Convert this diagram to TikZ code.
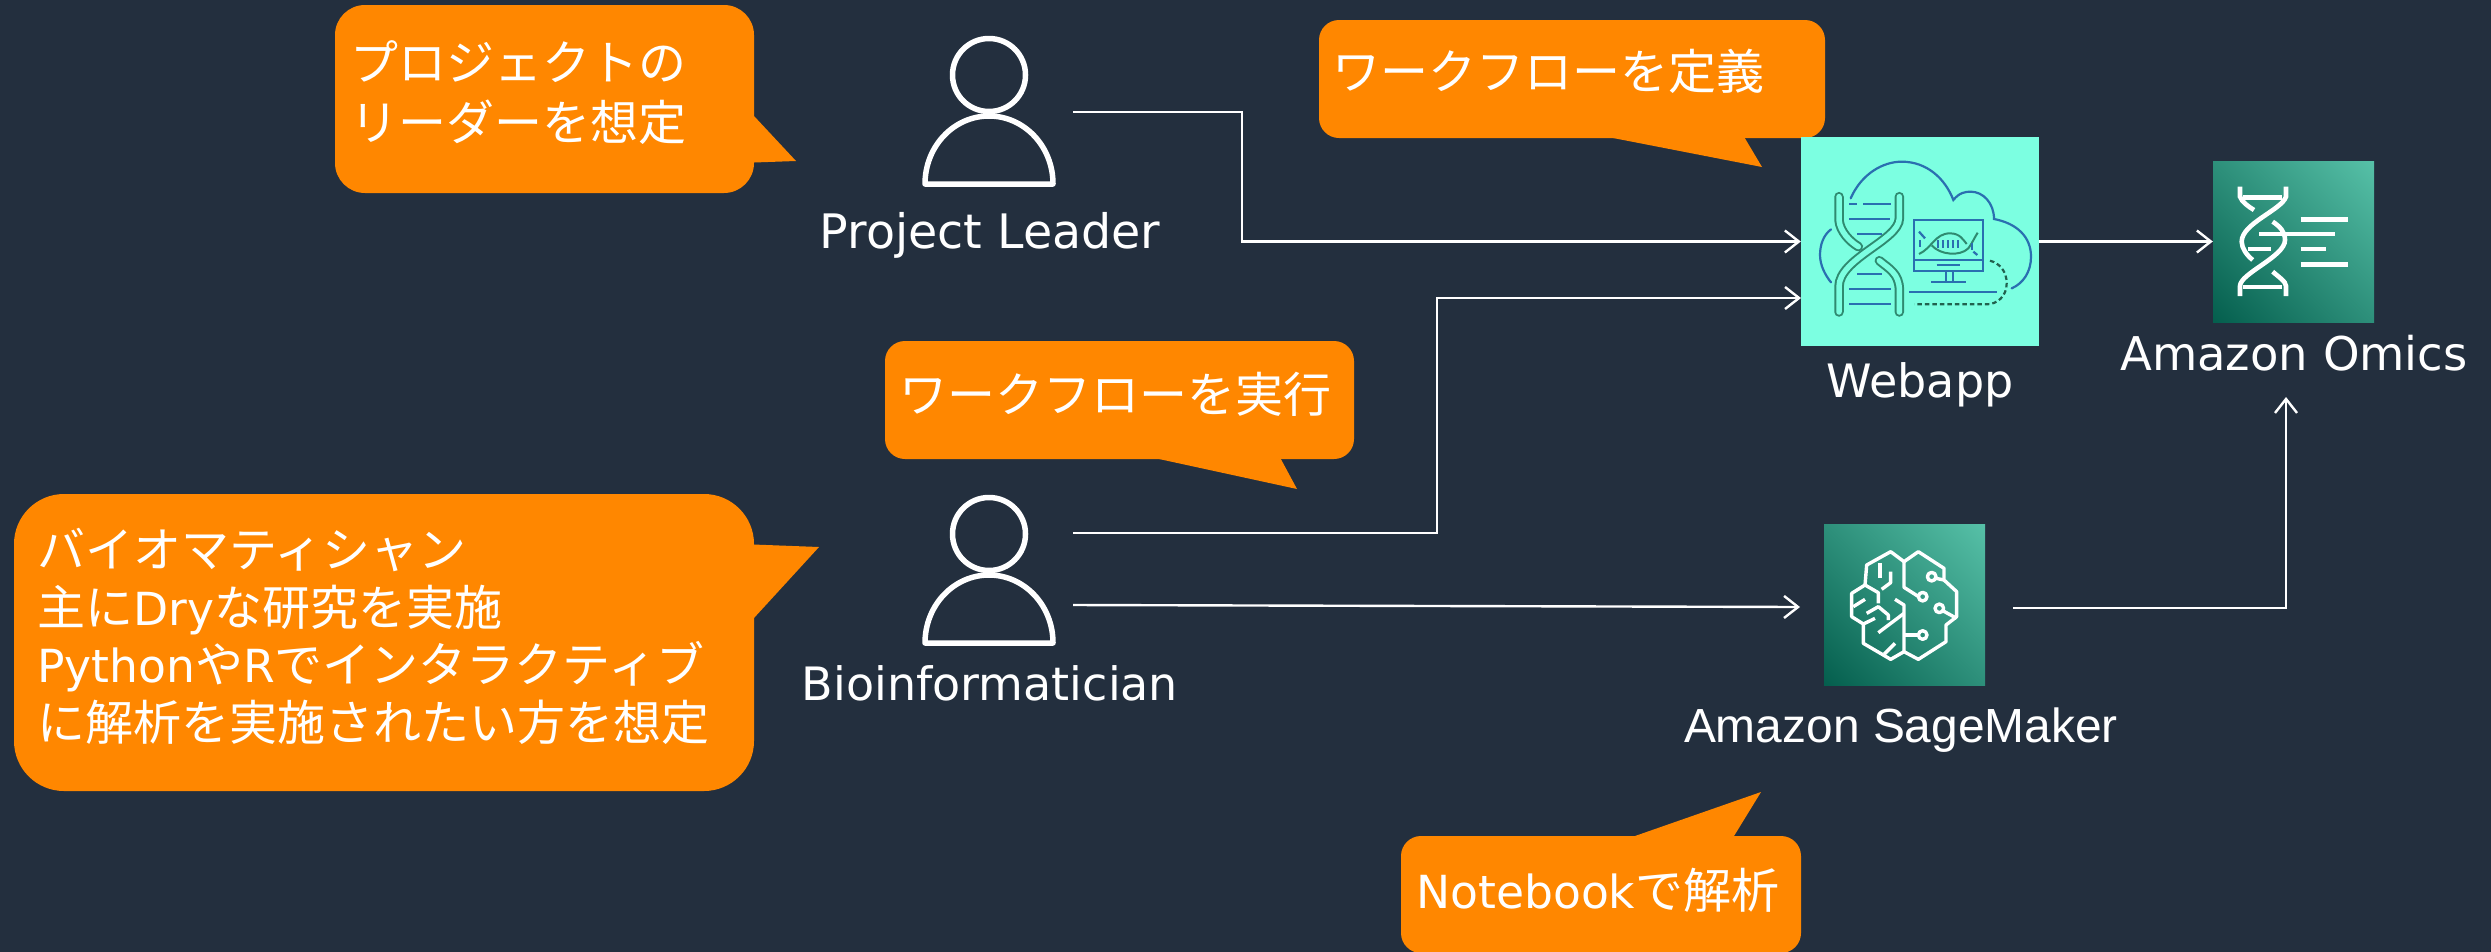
\documentclass[tikz,border=0pt]{standalone}
\usepackage{fontspec}
\usetikzlibrary{arrows.meta}
\setmainfont{Noto Sans CJK JP}
\newfontfamily\latinf[Scale=0.95]{DejaVu Sans}
\newfontfamily\labelf{DejaVu Sans}
\newfontfamily\awsf{Liberation Sans}
\newcommand{\latn}[1]{{\latinf #1}}
\definecolor{bgc}{HTML}{232F3E}
\definecolor{orng}{HTML}{FF8700}
\definecolor{mint}{HTML}{7CFFE1}
\definecolor{awsdark}{HTML}{055F4E}
\definecolor{awslight}{HTML}{56C0A7}
\definecolor{icblue}{HTML}{2A6FB0}
\definecolor{icgreen}{HTML}{2F8A70}
\pgfdeclareverticalshading{awsgrad}{100bp}{color(0bp)=(awsdark); color(15bp)=(awsdark); color(85bp)=(awslight); color(100bp)=(awslight)}
\tikzset{
  x=1pt,y=-1pt,
  bubble/.style={fill=orng,draw=none,rounded corners=#1},
  bubbletext/.style={inner sep=0pt,text=white,anchor=base west,align=left,
     font=\fontsize{48}{57.5}\selectfont},
  lbl/.style={inner sep=0pt,text=white,anchor=base},
  flow/.style={draw=white,line width=2.4pt,-{Straight Barb[length=14pt,width=22pt,line width=2.4pt]}},
  personbox/.style={minimum width=134pt,minimum height=150pt,inner sep=0pt,draw=none},
  person/.style={draw=white,line width=5.5pt,fill=none},
  awsicon/.style={minimum width=161pt,minimum height=161pt,inner sep=0pt,draw=none,
     shading=awsgrad,shading angle=-45},
  iconline/.style={draw=white,line width=#1,line cap=butt,line join=miter},
  cloudline/.style={draw=icblue,line width=2.2pt,line cap=round},
  rung/.style={draw=icblue,line width=2.2pt},
  strand/.style={draw=icgreen,line width=2pt,double=mint,double distance=5.5pt,line cap=round},
}
\begin{document}
\begin{tikzpicture}
\useasboundingbox (0,0) rectangle (2491,951);
\fill[bgc] (-6,-6) rectangle (2497,957);

% speech bubbles
\fill[orng] (754,116) -- (796,161) -- (740,163) -- (740,116) -- cycle;
\fill[bubble=30pt] (335,5) rectangle (754,193);
\fill[orng] (1613,130) -- (1613,138) -- (1762,167) -- (1740,130) -- cycle;
\fill[bubble=20pt] (1319,20) rectangle (1825,138);
\fill[orng] (1159,450) -- (1159,459) -- (1297,489) -- (1276,450) -- cycle;
\fill[bubble=20pt] (885,341) rectangle (1354,459);
\fill[orng] (740,544) -- (819,547) -- (754,618) -- (740,618) -- cycle;
\fill[bubble=50pt] (14,494) rectangle (754,791);
\fill[orng] (1635,845) -- (1635,836) -- (1761,792) -- (1734,836) -- (1734,845) -- cycle;
\fill[bubble=20pt] (1401,836) rectangle (1801,953);

\node[bubbletext] (t1) at (350,140) {プロジェクトの\\[2.5pt]リーダーを想定};
\node[bubbletext] (t2) at (1332,89) {ワークフローを定義};
\node[bubbletext] (t3) at (899,412) {ワークフローを実行};
\node[bubbletext] (t4) at (37,740) {バイオマティシャン\\主に\latn{Dry}な研究を実施\\\latn{Python}や\latn{R}でインタラクティブ\\に解析を実施されたい方を想定};
\node[bubbletext] (t5) at (1416,908) {\latn{Notebook}で解析};

% people
\node[personbox] (pl) at (989,112) {};
\node[personbox] (bio) at (989,571) {};
\foreach \dy in {0,459}{
  \begin{scope}[yshift=-\dy pt]
  \draw[person] (989,75) circle[radius=36.5pt];
  \draw[person,line join=round] (925,184) .. controls (925,146) and (954,116) .. (989,116)
     .. controls (1024,116) and (1053,146) .. (1053,184) -- cycle;
  \end{scope}
}
\node[lbl,font=\labelf\fontsize{47.5}{56}\selectfont] (pllabel) at (990,248) {Project Leader};
\node[lbl,font=\labelf\fontsize{46}{56}\selectfont] (biolabel) at (990,700) {Bioinformatician};

% service boxes
\node[minimum width=238pt,minimum height=209pt,inner sep=0pt,fill=mint] (webapp) at (1920,241.5) {};
\node[awsicon] (omics) at (2293.5,241.5) {};
\node[awsicon] (sage) at (1904.5,604.5) {};
\node[lbl,font=\labelf\fontsize{46}{56}\selectfont] (weblabel) at (1920,397) {Webapp};
\node[lbl,font=\labelf\fontsize{46.5}{56}\selectfont] (omicslabel) at (2294,370) {Amazon Omics};
\node[lbl,font=\awsf\fontsize{47.9}{56}\selectfont] (sagelabel) at (1901,742) {Amazon SageMaker};

% Webapp icon
\begin{scope}[xshift=1800pt,yshift=-140pt,x=0.33333pt,y=-0.33333pt]
  \draw[cloudline] (152,175) .. controls (185,100) and (250,65) .. (305,65)
     .. controls (380,65) and (435,115) .. (460,180)
     .. controls (478,158) and (495,155) .. (512,155)
     .. controls (550,155) and (582,190) .. (582,237)
     .. controls (650,250) and (693,290) .. (693,350)
     .. controls (693,395) and (670,430) .. (635,445);
  \draw[cloudline] (93,268) .. controls (70,285) and (60,315) .. (60,345)
     .. controls (60,375) and (75,405) .. (93,427);
  \draw[strand] (117,170) -- (117,240) .. controls (120,275) and (150,305) .. (175,320);
  \draw[strand] (298,170) -- (298,235) .. controls (298,300) and (117,355) .. (117,440) -- (117,516);
  \draw[strand] (238,362) .. controls (265,385) and (298,400) .. (298,450) -- (298,516);
  \foreach \a/\b/\c in {147/172/192,190/272/192,147/270/237,172/246/282,172/246/402,147/272/447,147/272/493,327/592/457,410/480/376,393/497/425}
    \draw[rung] (\a,\c) -- (\b,\c);
  \draw[rung] (343,239) rectangle (549,393);
  \draw[rung] (343,360) -- (549,360);
  \draw[rung] (437,393) -- (437,425);
  \draw[rung] (458,393) -- (458,425);
  \draw[draw=icgreen,line width=2pt] (357,342) .. controls (395,325) and (405,280) .. (450,280) .. controls (480,280) and (490,300) .. (500,312);
  \draw[draw=icgreen,line width=2pt] (395,316) .. controls (420,345) and (480,350) .. (505,325) .. controls (515,312) and (525,290) .. (533,278);
  \foreach \a in {415,430,445,460,475}
    \draw[rung] (\a,300) -- (\a,325);
  \draw[rung] (357,275) -- (375,295);
  \draw[rung] (360,300) -- (360,320);
  \draw[rung] (515,310) -- (515,330);
  \draw[rung] (520,335) -- (532,345);
  \draw[draw=icgreen!70!black,line width=2.2pt,dash pattern=on 4.5pt off 3pt]
     (570,362) .. controls (600,370) and (620,395) .. (620,430)
     .. controls (620,470) and (590,493) .. (560,493) -- (343,493);
\end{scope}

% Omics icon
\begin{scope}[xshift=2210pt,yshift=-160pt,x=0.33333pt,y=-0.33333pt]
  \tikzset{every path/.style={iconline=4.6pt}}
  \draw (228,80) -- (228,110) .. controls (215,150) and (95,190) .. (95,245) .. controls (95,265) and (110,285) .. (128,300);
  \draw (90,80) -- (90,110) .. controls (95,125) and (115,140) .. (132,150);
  \draw (188,185) .. controls (210,200) and (225,215) .. (225,240) .. controls (225,290) and (90,340) .. (90,378) -- (90,408);
  \draw (188,335) .. controls (205,350) and (228,365) .. (228,378) -- (228,408);
  \foreach \a/\b/\c in {100/215/113,100/215/381,148/376/222,115/182/267,272/414/178,272/347/267,272/414/313}
    \draw (\a,\c) -- (\b,\c);
\end{scope}

% SageMaker icon
\begin{scope}[xshift=1650pt,yshift=-500pt,x=0.33333pt,y=-0.33333pt]
  \tikzset{every path/.style={iconline=3.4pt,line join=round}}
  \draw (762,185) -- (805,155) -- (882,205) -- (882,240) -- (920,275) -- (920,350) -- (888,375) -- (888,425) -- (805,478) -- (762,455) -- (722,478) -- (640,430) -- (640,372) -- (605,350) -- (605,280) -- (645,255) -- (650,195) -- (722,155) -- cycle;
  \draw (762,185) -- (762,262) -- (806,290);
  \draw (735,298) -- (762,315) -- (762,460);
  \draw (818,290) circle[radius=4.3pt];
  \draw (845,230) circle[radius=4.3pt];
  \draw (868,325) circle[radius=4.3pt];
  \draw (818,405) circle[radius=4.3pt];
  \draw (858,235) -- (882,240);
  \draw (880,333) -- (920,355);
  \draw (762,405) -- (805,405);
  \draw (690,190) -- (690,235);
  \draw (722,215) -- (722,248) -- (695,268);
  \draw (645,255) -- (685,278) -- (685,310);
  \draw (610,320) -- (645,298);
  \draw (650,340) -- (685,320) -- (715,345) -- (715,360);
  \draw (685,398) -- (762,340);
  \draw (640,372) -- (675,355);
  \draw (703,462) -- (735,430);
\end{scope}

% connector ends
\coordinate (plout) at (1073,112);
\coordinate (bioa) at (1073,533);
\coordinate (biob) at (1073,605);
\coordinate (webb) at (1801,298);
\coordinate (sagein) at (1800,607);
\coordinate (sageout) at (2013,608);
\coordinate (omicsin) at (2286,397);

\draw[flow] (plout) -- (1242,112) -- (1242,241.5) -- (webapp.west);
\draw[flow] (bioa) -- (1437,533) -- (1437,298) -- (webb);
\draw[flow] (biob) -- (sagein);
\draw[flow] (webapp.east) -- (omics.west);
\draw[flow] (sageout) -- (omicsin |- sageout) -- (omicsin);
\end{tikzpicture}
\end{document}
